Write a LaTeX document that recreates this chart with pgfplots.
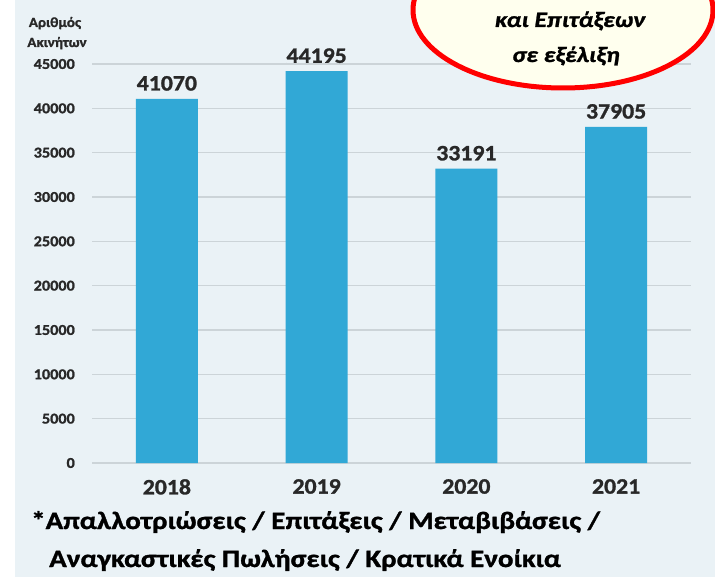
\documentclass[border=0pt]{standalone}
\usepackage{pgfplots}
\pgfplotsset{compat=1.18}
\usepackage{fontspec}
\setmainfont{Carlito}[FakeStretch=1.08, BoldFeatures={FakeBold=1.2}]
\newfontfamily\widefont{Carlito}[FakeStretch=1.16, BoldFeatures={FakeBold=1.2}, BoldItalicFeatures={FakeBold=1.2}]
\definecolor{bg}{RGB}{234,242,246}
\definecolor{gridc}{RGB}{204,212,216}
\definecolor{barc}{RGB}{49,168,214}
\definecolor{tickc}{RGB}{40,40,40}
\definecolor{cream}{RGB}{255,255,238}
\begin{document}
\begin{tikzpicture}
\useasboundingbox (0,0) rectangle (715pt,-577pt);
\clip (0,0) rectangle (715pt,-577pt);
\fill[bg] (15pt,0) rectangle (715pt,-577pt);
\begin{axis}[
  at={(92pt,-463pt)}, anchor=south west,
  scale only axis, width=599pt, height=399pt,
  xmin=-0.5, xmax=3.5, ymin=0, ymax=45000,
  ytick={0,5000,...,45000},
  xtick={0,1,2,3}, xticklabels={2018,2019,2020,2021},
  axis line style={draw=none},
  major tick length=0pt,
  ymajorgrids,
  grid style={color=gridc, line width=1.2pt},
  scaled y ticks=false,
  /pgf/number format/assume math mode=true,
  /pgf/number format/1000 sep={},
  yticklabel style={font=\fontsize{15}{15}\selectfont\bfseries, color=tickc, anchor=east, inner sep=0pt, xshift=-17pt},
  xticklabel style={font=\fontsize{22}{22}\selectfont\bfseries, color=tickc, anchor=north, inner sep=0pt, yshift=-16pt},
  ybar, bar width=62pt,
  nodes near coords,
  nodes near coords style={font=\fontsize{22}{22}\selectfont\bfseries, color=tickc, anchor=south, inner sep=0pt, yshift=8pt},
  clip=false,
]
\addplot[fill=barc, draw=none] coordinates {(0,41070) (1,44195) (2,33191) (3,37905)};
\end{axis}
\node[anchor=base, inner sep=0pt, font=\fontsize{14}{15}\selectfont\bfseries, color=tickc] at (55pt,-27pt) {Αριθμός};
\node[anchor=base, inner sep=0pt, font=\fontsize{14}{15}\selectfont\bfseries, color=tickc] at (57pt,-47pt) {Ακινήτων};
\draw[red, line width=5pt, fill=cream] (563pt,-10pt) ellipse [x radius=150pt, y radius=78pt];
\node[anchor=base, inner sep=0pt, font=\widefont\fontsize{22}{22}\selectfont\bfseries\itshape] at (570pt,-27pt) {και Επιτάξεων};
\node[anchor=base, inner sep=0pt, font=\widefont\fontsize{22}{22}\selectfont\bfseries\itshape] at (566pt,-62pt) {σε εξέλιξη};
\node[anchor=base west, inner sep=0pt, font=\widefont\fontsize{25}{25}\selectfont\bfseries] at (31pt,-529pt) {*Απαλλοτριώσεις / Επιτάξεις / Μεταβιβάσεις /};
\node[anchor=base west, inner sep=0pt, font=\widefont\fontsize{25}{25}\selectfont\bfseries] at (49pt,-567pt) {Αναγκαστικές Πωλήσεις / Κρατικά Ενοίκια};
\end{tikzpicture}
\end{document}
